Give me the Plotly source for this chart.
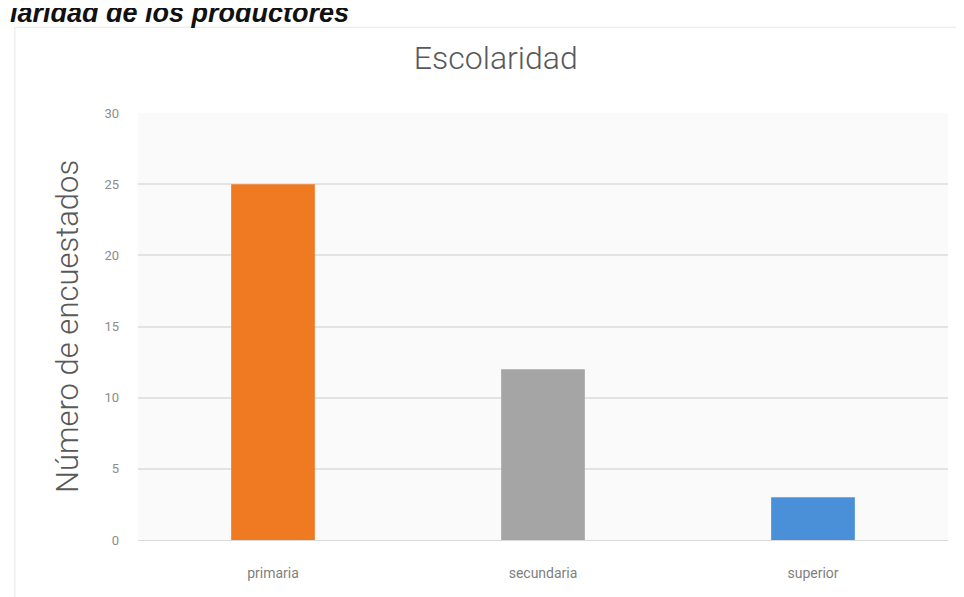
import plotly.graph_objects as go

categories = ["primaria", "secundaria", "superior"]
values = [25, 12, 3]
colors = ["#F07A22", "#A5A5A5", "#4A90D9"]
tick_vals = [0, 5, 10, 15, 20, 25, 30]

fig = go.Figure()
fig.add_trace(go.Bar(
    x=categories, y=values, marker_color=colors, width=0.31,
    marker_line_width=0,
))

fig.update_layout(
    width=964, height=597,
    margin=dict(l=130, r=24, t=105, b=65),
    paper_bgcolor="#FFFFFF",
    plot_bgcolor="#FAFAFA",
    showlegend=False,
    font=dict(family="Roboto, Arial, sans-serif"),
    title=dict(text="Escolaridad", x=0.506, xref="container", xanchor="center",
               y=0.916, yanchor="middle",
               font=dict(size=32, color="#595959", weight=300)),
    xaxis=dict(showgrid=False, showline=True, linecolor="#D9D9D9", ticks="",
               ticklabelstandoff=20,
               tickfont=dict(size=14, color="#7F7F7F")),
    yaxis=dict(range=[0, 30], tickvals=tick_vals, showgrid=True, gridcolor="#E3E3E3",
               gridwidth=2, zeroline=False, tickfont=dict(size=13, color="#8C8C8C"),
               ticklabelstandoff=18,
               title=dict(text="Número de encuestados", font=dict(size=31, color="#595959", weight=300),
                          standoff=16)),
)

fig.add_shape(type="rect", xref="paper", yref="paper", x0=-0.152, x1=1.02, y0=-0.2, y1=1.201,
              line=dict(color="#E6E6E6", width=1), fillcolor="rgba(0,0,0,0)", layer="below")
fig.add_annotation(text="<b><i>laridad de los productores</i></b>", xref="paper", yref="paper",
                   x=-0.160, y=1.234, xanchor="left", yanchor="middle", showarrow=False,
                   font=dict(size=27, color="#111111", family="Arial, Liberation Sans, sans-serif"))

fig.write_html("out.html")
